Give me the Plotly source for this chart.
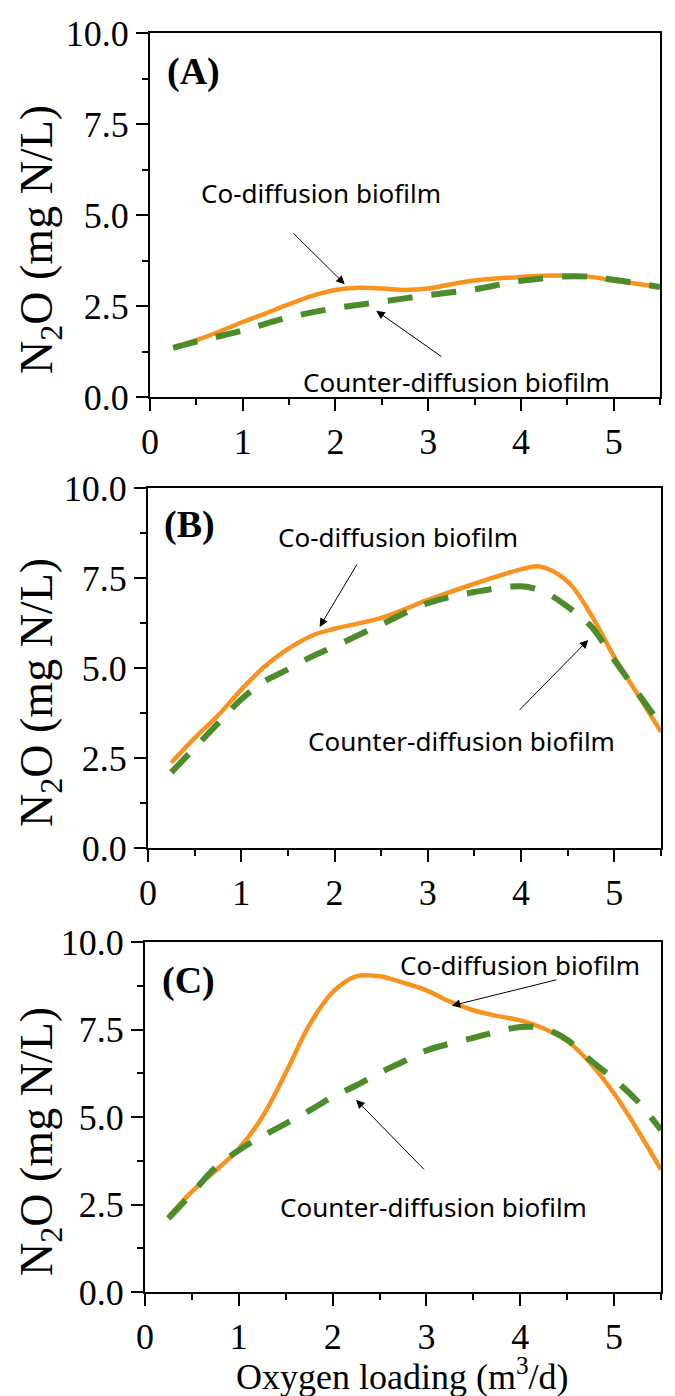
import plotly.graph_objects as go

# oxygen loading (m3/d)
x_a = [0.25, 0.5, 0.75, 1.0, 1.25, 1.5, 1.75, 2.0, 2.25, 2.5, 2.75, 3.0, 3.25, 3.5, 4.0, 4.4, 4.75, 5.0, 5.5]
co_a = [1.35, 1.56, 1.8, 2.06, 2.3, 2.55, 2.78, 2.94, 3.0, 2.98, 2.94, 2.98, 3.1, 3.2, 3.3, 3.34, 3.3, 3.2, 3.02]
x_a2 = [0.25, 0.5, 1.0, 1.5, 2.0, 2.5, 3.0, 3.5, 4.0, 4.6, 5.0, 5.5]
counter_a = [1.35, 1.52, 1.83, 2.19, 2.44, 2.62, 2.8, 2.96, 3.19, 3.32, 3.22, 3.02]

x_b = [0.25, 0.5, 0.75, 1.0, 1.25, 1.5, 1.75, 2.0, 2.5, 3.0, 3.5, 4.0, 4.2, 4.5, 4.75, 5.0, 5.25, 5.5]
co_b = [2.37, 3.05, 3.68, 4.4, 5.04, 5.53, 5.89, 6.09, 6.39, 6.89, 7.34, 7.74, 7.82, 7.4, 6.48, 5.3, 4.27, 3.23]
x_b2 = [0.25, 0.5, 0.75, 1.0, 1.25, 1.5, 1.75, 2.0, 2.5, 3.0, 3.5, 4.0, 4.25, 4.5, 4.75, 5.0, 5.25, 5.5]
counter_b = [2.1, 2.78, 3.46, 4.13, 4.63, 4.96, 5.31, 5.6, 6.21, 6.8, 7.11, 7.27, 7.11, 6.7, 6.16, 5.22, 4.31, 3.41]

x_c = [0.25, 0.5, 0.75, 1.0, 1.25, 1.5, 1.75, 2.0, 2.25, 2.5, 2.75, 3.0, 3.25, 3.5, 3.75, 4.0, 4.25, 4.5, 4.75, 5.0, 5.25, 5.5]
co_c = [2.15, 2.87, 3.46, 4.09, 5.0, 6.26, 7.62, 8.57, 9.02, 9.02, 8.84, 8.62, 8.3, 8.05, 7.89, 7.76, 7.53, 7.17, 6.53, 5.67, 4.63, 3.5]
x_c2 = [0.25, 0.5, 0.75, 1.0, 1.25, 1.5, 1.75, 2.0, 2.25, 2.5, 2.75, 3.0, 3.5, 4.0, 4.25, 4.5, 4.75, 5.0, 5.25, 5.5]
counter_c = [2.1, 2.82, 3.55, 4.05, 4.45, 4.81, 5.18, 5.58, 5.9, 6.26, 6.58, 6.9, 7.26, 7.57, 7.53, 7.21, 6.62, 6.08, 5.45, 4.63]

panel_labels = ["(A)", "(B)", "(C)"]
y_ticks = [0.0, 2.5, 5.0, 7.5, 10.0]
x_ticks = [0, 1, 2, 3, 4, 5]

orange = "#F7931E"
green = "#4C8C2A"
serif = "Liberation Serif, Times New Roman, serif"
sans = "Noto Sans, Open Sans, sans-serif"

W, H = 675, 1396
OFF = 8  # page body margin, the figure is drawn 8px in from the corner
# pixel boxes of the three plot areas on the page: (left, right, top, bottom)
boxes = [(150, 660, 33, 397), (148, 661, 488, 848), (145, 661, 942, 1292)]


def px(v):
    return (v - OFF) / W


def py(v):
    return 1 - (v - OFF) / H


panels = [
    (x_a, co_a, x_a2, counter_a),
    (x_b, co_b, x_b2, counter_b),
    (x_c, co_c, x_c2, counter_c),
]

# panel letter positions (data coords)
label_pos = [(0.16, 8.93), (0.15, 9.0), (0.16, 8.9)]

# annotation positions (data coords): text centre, arrow tail, arrow head
arrows = [
    [("Co-diffusion biofilm", (1.84, 5.6), (1.53, 4.54), (2.1, 3.1)),
     ("Counter-diffusion biofilm", (3.3, 0.42), (3.16, 1.08), (2.44, 2.37))],
    [("Co-diffusion biofilm", (2.68, 8.65), (2.25, 7.92), (1.84, 6.14)),
     ("Counter-diffusion biofilm", (3.36, 2.98), (3.97, 3.8), (4.72, 5.78))],
    [("Co-diffusion biofilm", (4.0, 9.34), (4.4, 8.93), (3.27, 8.18)),
     ("Counter-diffusion biofilm", (3.08, 2.42), (2.99, 3.46), (2.25, 5.49))],
]

fig = go.Figure()
annotations = []

for i, (xs, co, xs2, counter) in enumerate(panels):
    n = "" if i == 0 else str(i + 1)
    xa, ya = "x" + n, "y" + n
    fig.add_trace(go.Scatter(x=xs, y=co, mode="lines", line=dict(color=orange, width=4.5, shape="spline"),
                             xaxis=xa, yaxis=ya, showlegend=False))
    fig.add_trace(go.Scatter(x=xs2, y=counter, mode="lines",
                             line=dict(color=green, width=6, shape="spline", dash="25px,19px"),
                             xaxis=xa, yaxis=ya, showlegend=False))

    l, r, t, b = boxes[i]
    common = dict(
        showline=True, linecolor="black", linewidth=2, mirror=True,
        ticks="outside", ticklen=12, tickwidth=2, tickcolor="black",
        showgrid=False, zeroline=False, automargin=False,
        tickfont=dict(family=serif, size=36, color="black"),
    )
    fig.layout["xaxis" + n] = dict(
        common, domain=[px(l), px(r)], range=[0, 5.5], anchor=ya,
        tickvals=x_ticks, ticktext=[str(v) for v in x_ticks],
        minor=dict(ticks="outside", ticklen=6, tickwidth=2, tickcolor="black", dtick=0.5, tick0=0),
    )
    fig.layout["yaxis" + n] = dict(
        common, domain=[py(b), py(t)], range=[0, 10], anchor=xa,
        tickvals=y_ticks, ticktext=["%.1f" % v for v in y_ticks],
        minor=dict(ticks="outside", ticklen=6, tickwidth=2, tickcolor="black", dtick=1.25, tick0=0),
    )

    lx, ly = label_pos[i]
    annotations.append(dict(x=lx, y=ly, xref=xa, yref=ya, text="<b>" + panel_labels[i] + "</b>",
                            showarrow=False, xanchor="left", yanchor="middle",
                            font=dict(family=serif, size=38, color="black")))
    for text, (tx, ty), (ax, ay), (hx, hy) in arrows[i]:
        annotations.append(dict(x=tx, y=ty, xref=xa, yref=ya, text=text, showarrow=False,
                                xanchor="center", yanchor="middle",
                                font=dict(family=sans, size=26, color="black")))
        annotations.append(dict(x=hx, y=hy, ax=ax, ay=ay, xref=xa, yref=ya, axref=xa, ayref=ya,
                                text="", showarrow=True, arrowhead=2, arrowsize=1.7,
                                arrowwidth=1, arrowcolor="black"))

    # y axis title
    annotations.append(dict(x=px(40), y=py((t + b) / 2 + 25), xref="paper", yref="paper",
                            xanchor="center", yanchor="middle",
                            text="N<sub>2</sub>O (mg N/L)", textangle=-90, showarrow=False,
                            font=dict(family=serif, size=46, color="black")))

annotations.append(dict(x=px(402), y=py(1374), xref="paper", yref="paper",
                        xanchor="center", yanchor="middle",
                        text="Oxygen loading (m<sup>3</sup>/d)", showarrow=False,
                        font=dict(family=serif, size=36, color="black")))

fig.update_layout(
    template="none",
    width=W, height=H,
    margin=dict(l=0, r=0, t=0, b=0, autoexpand=False),
    paper_bgcolor="white", plot_bgcolor="white",
    annotations=annotations,
)

fig.write_html("out.html")
